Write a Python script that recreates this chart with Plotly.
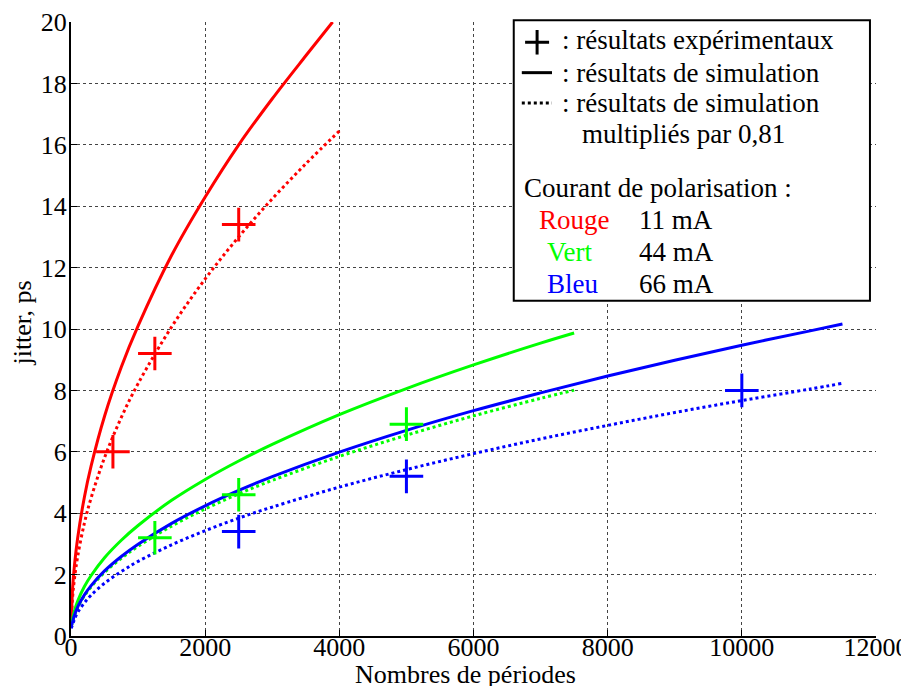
import plotly.graph_objects as go

# courbes de simulation
x_rouge = [0, 25, 50, 100, 200, 300, 500, 750, 1000, 1500, 2000, 2500, 3000, 3500, 3900]
y_rouge = [0.3, 1.6, 2.26, 3.2, 4.53, 5.54, 7.16, 8.76, 10.1, 12.4, 14.3, 16.0, 17.5, 18.9, 20.0]
x_rouge_pt = [0, 25, 50, 100, 200, 300, 500, 750, 1000, 1500, 2000, 2500, 3000, 3500, 4000]
y_rouge_pt = [0.3, 1.3, 1.84, 2.6, 3.68, 4.5, 5.81, 7.12, 8.22, 10.07, 11.63, 13.0, 14.24, 15.38, 16.45]

x_vert = [0, 25, 50, 100, 200, 300, 500, 750, 1000, 1500, 2000, 2500, 3000, 4000, 5000, 6000, 7000, 7500]
y_vert = [0.3, 0.57, 0.81, 1.14, 1.61, 1.97, 2.55, 3.12, 3.6, 4.42, 5.1, 5.7, 6.24, 7.21, 8.06, 8.83, 9.54, 9.87]
y_vert_pt = [0.3, 0.46, 0.65, 0.93, 1.31, 1.6, 2.07, 2.53, 2.92, 3.58, 4.14, 4.63, 5.07, 5.85, 6.54, 7.17, 7.74, 8.01]

x_bleu = [0, 25, 50, 100, 200, 300, 500, 750, 1000, 1500, 2000, 2500, 3000, 4000, 5000,
          6000, 7000, 8000, 9000, 10000, 11000, 11500]
y_bleu = [0.3, 0.47, 0.67, 0.95, 1.34, 1.64, 2.12, 2.59, 2.99, 3.67, 4.24, 4.74, 5.19, 5.99, 6.7,
          7.34, 7.92, 8.47, 8.98, 9.47, 9.93, 10.16]
y_bleu_pt = [0.25, 0.38, 0.54, 0.77, 1.08, 1.33, 1.72, 2.1, 2.43, 2.97, 3.43, 3.84, 4.2, 4.85, 5.42,
             5.94, 6.42, 6.86, 7.28, 7.67, 8.04, 8.23]

# résultats expérimentaux
exp_x_rouge = [625, 1250, 2500]
exp_y_rouge = [6.0, 9.2, 13.4]
exp_x_vert = [1250, 2500, 5000]
exp_y_vert = [3.2, 4.6, 6.9]
exp_x_bleu = [2500, 5000, 10000]
exp_y_bleu = [3.4, 5.2, 8.0]

x_ticks = [0, 2000, 4000, 6000, 8000, 10000, 12000]
x_ticktext = ["0", "2000", "4000", "6000", "8000", "10000", "12000"]
y_ticks = [0, 2, 4, 6, 8, 10, 12, 14, 16, 18, 20]

ROUGE, VERT, BLEU = "#FF0000", "#00FF00", "#0000FF"
FONT = "Liberation Serif, Times New Roman, serif"
FS = 26

fig = go.Figure()

series = [
    (x_rouge, y_rouge, x_rouge_pt, y_rouge_pt, ROUGE),
    (x_vert, y_vert, x_vert, y_vert_pt, VERT),
    (x_bleu, y_bleu, x_bleu, y_bleu_pt, BLEU),
]
for xs, ys, xd, yd, c in series:
    fig.add_trace(go.Scatter(x=xs, y=ys, mode="lines", line=dict(color=c, width=3, shape="spline")))
    fig.add_trace(go.Scatter(x=xd, y=yd, mode="lines",
                             line=dict(color=c, width=3, dash="dot", shape="spline")))

for xs, ys, c in [(exp_x_rouge, exp_y_rouge, ROUGE), (exp_x_vert, exp_y_vert, VERT),
                  (exp_x_bleu, exp_y_bleu, BLEU)]:
    fig.add_trace(go.Scatter(x=xs, y=ys, mode="markers",
                             marker=dict(symbol="cross-thin", size=24, color=c,
                                         line=dict(color=c, width=3))))

# légende faite à la main
fig.add_shape(type="rect", xref="paper", yref="paper", x0=0.550, x1=0.9925, y0=0.546, y1=1.003,
              line=dict(color="black", width=2), fillcolor="white", layer="above")
fig.add_shape(type="line", xref="paper", yref="paper", x0=0.5641, x1=0.5939, y0=0.967, y1=0.967,
              line=dict(color="black", width=3))
fig.add_shape(type="line", xref="paper", yref="paper", x0=0.579, x1=0.579, y0=0.947, y1=0.987,
              line=dict(color="black", width=3))
fig.add_shape(type="line", xref="paper", yref="paper", x0=0.560, x1=0.5975, y0=0.9175, y1=0.9175,
              line=dict(color="black", width=3))
fig.add_shape(type="line", xref="paper", yref="paper", x0=0.560, x1=0.5975, y0=0.868, y1=0.868,
              line=dict(color="black", width=3, dash="dot"))

leg = [
    (": résultats expérimentaux", 0.6075, 0.970, "black"),
    (": résultats de simulation", 0.6075, 0.9175, "black"),
    (": résultats de simulation", 0.6075, 0.868, "black"),
    ("multipliés par 0,81", 0.632, 0.817, "black"),
    ("Courant de polarisation :", 0.560, 0.729, "black"),
    ("Rouge", 0.579, 0.678, ROUGE),
    ("Vert", 0.589, 0.625, VERT),
    ("Bleu", 0.589, 0.5726, BLEU),
    ("11 mA", 0.703, 0.678, "black"),
    ("44 mA", 0.703, 0.625, "black"),
    ("66 mA", 0.703, 0.5726, "black"),
]
for txt, x, y, c in leg:
    fig.add_annotation(text=txt, x=x, y=y, xref="paper", yref="paper", xanchor="left",
                       yanchor="middle", showarrow=False, font=dict(family=FONT, size=27, color=c))

# titres des axes
fig.add_annotation(text="Nombres de périodes", x=0.490, y=-0.062, xref="paper", yref="paper",
                   xanchor="center", yanchor="middle", showarrow=False,
                   font=dict(family=FONT, size=FS, color="black"))
fig.add_annotation(text="jitter, ps", x=-0.060, y=0.51, xref="paper", yref="paper", textangle=-90,
                   xanchor="center", yanchor="middle", showarrow=False,
                   font=dict(family=FONT, size=FS, color="black"))

axis_common = dict(showgrid=True, gridcolor="#444444", griddash="dot", gridwidth=1,
                   showline=True, linecolor="black", linewidth=2, ticks="inside", ticklen=6,
                   tickcolor="black", tickwidth=1, zeroline=False, automargin=False,
                   tickfont=dict(family=FONT, size=FS, color="black"))

fig.update_xaxes(range=[0, 12000], tickvals=x_ticks, ticktext=x_ticktext,
                 ticklabelstandoff=-13, **axis_common)
fig.update_yaxes(range=[0, 20], tickvals=y_ticks, ticklabelstandoff=-3, **axis_common)

# la page html ajoute 8 px de marge : on compense
fig.update_layout(width=901, height=678, showlegend=False,
                  margin=dict(l=63, r=33, t=14, b=50),
                  font=dict(family=FONT),
                  plot_bgcolor="white", paper_bgcolor="white")

fig.write_html("out.html")
